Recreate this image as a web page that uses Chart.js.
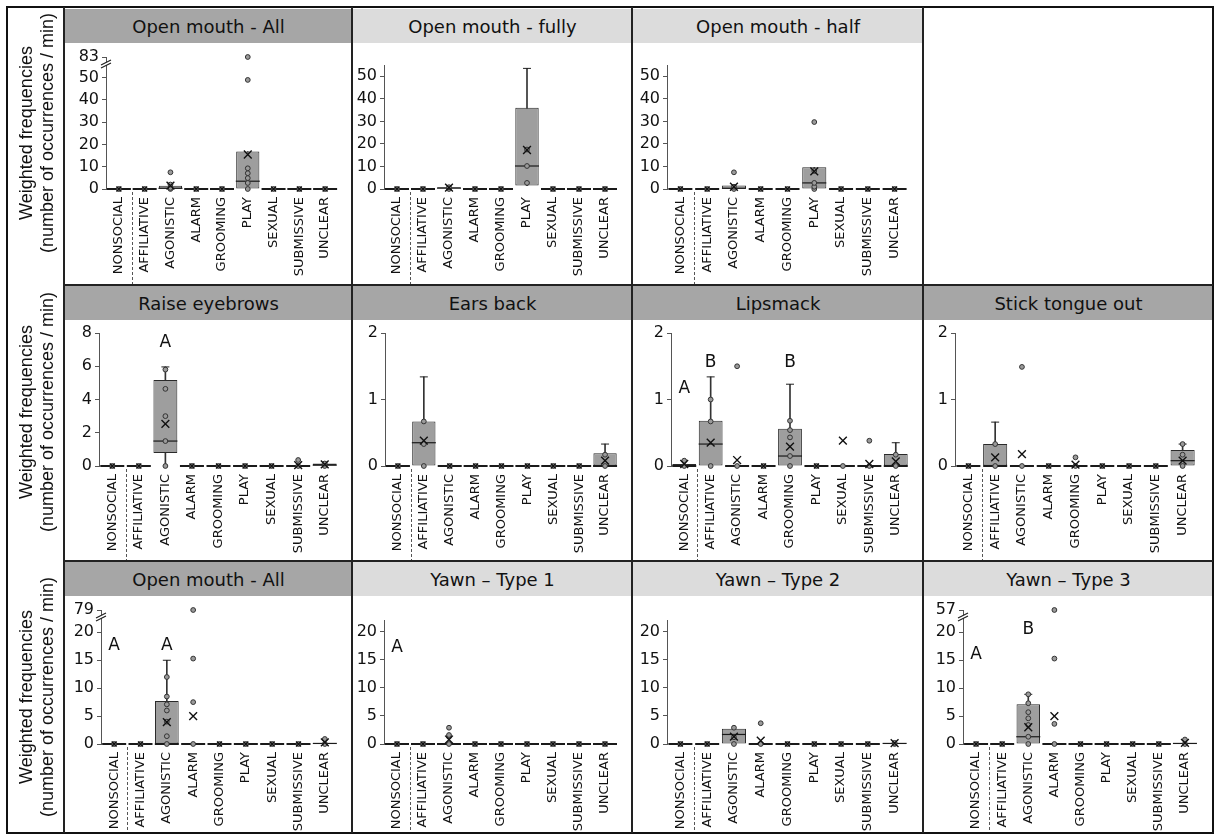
<!DOCTYPE html>
<html>
<head>
<meta charset="utf-8">
<script src="https://cdn.jsdelivr.net/npm/chart.js@4.4.1/dist/chart.umd.min.js"></script>
<style>
  body { margin: 0; background: #fff; width: 1215px; height: 839px; position: relative; overflow: hidden; }
  .frame { position: absolute; left: 6px; top: 6px; width: 1204px; height: 824px; border: 2px solid #111; }
  .vl { position: absolute; width: 2px; background: #222; }
  .hl { position: absolute; height: 2px; background: #222; }
  .hdr { position: absolute; height: 34px; display: flex; align-items: center; justify-content: center;
         font: 18px "DejaVu Sans", sans-serif; color: #111; }
  .ytitle { position: absolute; width: 300px; height: 44px; text-align: center; line-height: 22px;
            font: 18px "Liberation Sans", Arial, sans-serif; color: #111; transform: rotate(-90deg); }
  canvas { position: absolute; }
</style>
</head>
<body>
<div id="root"></div>
<script>
const CATS = ["NONSOCIAL", "AFFILIATIVE", "AGONISTIC", "ALARM", "GROOMING", "PLAY", "SEXUAL", "SUBMISSIVE", "UNCLEAR"]

// each row: [q1, median, q3, whisker low, whisker high, mean]
const omAllStats = [[0,0,0,0,0,0],[0,0,0,0,0,0],[0,0.3,1.5,0,1.5,1.5],[0,0,0,0,0,0],[0,0,0,0,0,0],[0,3.5,16.8,0,16.8,15.5],[0,0,0,0,0,0],[0,0,0,0,0,0],[0,0,0,0,0,0]]
const omAllPts = [[0],[0],[0,0.5,2,7.5],[0],[0],[0,2.7,4.9,7.1,9.3,49,83],[0],[0],[0]]

const omFullyStats = [[0,0,0,0,0,0],[0,0,0,0,0,0],[0,0.4,0.8,0,0.8,0.6],[0,0,0,0,0,0],[0,0,0,0,0,0],[1.5,10.2,36,1.5,53.5,17.3],[0,0,0,0,0,0],[0,0,0,0,0,0],[0,0,0,0,0,0]]
const omFullyPts = [[0],[0],[0,0.8],[0],[0],[2.7,10.2,17.5],[0],[0],[0]]

const omHalfStats = [[0,0,0,0,0,0],[0,0,0,0,0,0],[0,0.3,1.5,0,1.5,1.0],[0,0,0,0,0,0],[0,0,0,0,0,0],[0,2.7,9.6,0,9.6,7.8],[0,0,0,0,0,0],[0,0,0,0,0,0],[0,0,0,0,0,0]]
const omHalfPts = [[0],[0],[0,1,7.4],[0],[0],[0,1,2.7,8,29.7],[0],[0],[0]]

const raiseStats = [[0,0,0,0,0,0],[0,0,0,0,0,0],[0.78,1.5,5.18,0,5.96,2.53],[0,0,0,0,0,0],[0,0,0,0,0,0],[0,0,0,0,0,0],[0,0,0,0,0,0],[0,0,0,0,0,0.05],[0,0.05,0.15,0,0.15,0.1]]
const raisePts = [[0],[0],[0,1.5,3,4.64,5.8],[0],[0],[0],[0],[0,0.36],[0,0.15]]
const raiseLetters = [[2, 7.4, "A"]]

const earsStats = [[0,0,0,0,0,0],[0,0.35,0.67,0,1.34,0.38],[0,0,0,0,0,0],[0,0,0,0,0,0],[0,0,0,0,0,0],[0,0,0,0,0,0],[0,0,0,0,0,0],[0,0,0,0,0,0],[0,0,0.19,0,0.33,0.08]]
const earsPts = [[0],[0,0.33,0.67],[0],[0],[0],[0],[0],[0],[0,0.17]]

const lipStats = [[0,0,0.03,0,0.03,0.03],[0,0.33,0.68,0,1.34,0.35],[0,0,0,0,0,0.09],[0,0,0,0,0,0],[0,0.15,0.56,0,1.23,0.29],[0,0,0,0,0,0],[0,0,0,0,0,0.38],[0,0,0,0,0,0.03],[0,0,0.18,0,0.35,0.07]]
const lipPts = [[0,0.08],[0,0.67,1],[0,1.5],[0],[0,0.15,0.43,0.54,0.68],[0],[0],[0,0.38],[0,0.17]]
const lipLetters = [[0, 1.17, "A"], [1, 1.56, "B"], [4, 1.56, "B"]]

const tongueStats = [[0,0,0,0,0,0],[0,0,0.33,0,0.66,0.13],[0,0,0,0,0,0.18],[0,0,0,0,0,0],[0,0,0,0,0,0.02],[0,0,0,0,0,0],[0,0,0,0,0,0],[0,0,0,0,0,0],[0,0.08,0.24,0,0.33,0.08]]
const tonguePts = [[0],[0,0.33],[0,1.49],[0],[0,0.13],[0],[0],[0],[0,0.17,0.33]]

const omAll2Stats = [[0,0,0,0,0,0],[0,0,0,0,0,0],[0,0,7.7,0,15,3.9],[0,0,0,0,0,5.0],[0,0,0,0,0,0],[0,0,0,0,0,0],[0,0,0,0,0,0],[0,0,0,0,0,0],[0,0.1,0.2,0,0.2,0.3]]
const omAll2Pts = [[0],[0],[0,1.4,4,6,7.1,8.5,12],[0,7.5,15.3,79],[0],[0],[0],[0],[0,0.9]]
const omAll2Letters = [[0, 17.7, "A"], [2, 17.7, "A"]]

const yawn1Stats = [[0,0,0,0,0,0],[0,0,0,0,0,0],[0,0,0,0,0,0.8],[0,0,0,0,0,0],[0,0,0,0,0,0],[0,0,0,0,0,0],[0,0,0,0,0,0],[0,0,0,0,0,0],[0,0,0,0,0,0]]
const yawn1Pts = [[0],[0],[0,1.3,1.6,2.9],[0],[0],[0],[0],[0],[0]]
const yawn1Letters = [[0, 17.1, "A"]]

const yawn2Stats = [[0,0,0,0,0,0],[0,0,0,0,0,0],[0,1.7,2.7,0,2.7,1.3],[0,0,0,0,0,0.6],[0,0,0,0,0,0],[0,0,0,0,0,0],[0,0,0,0,0,0],[0,0,0,0,0,0],[0,0.1,0.2,0,0.2,0.15]]
const yawn2Pts = [[0],[0],[0,1.2,2.9],[0,3.7],[0],[0],[0],[0],[0,0.2]]

const yawn3Stats = [[0,0,0,0,0,0],[0,0,0,0,0,0],[0,1.3,7.1,0,8.9,3.0],[0,0,0,0,0,5.0],[0,0,0,0,0,0],[0,0,0,0,0,0],[0,0,0,0,0,0],[0,0,0,0,0,0],[0,0.1,0.2,0,0.2,0.2]]
const yawn3Pts = [[0],[0],[0,1.3,3.4,4.6,5.7,7.3,8.9],[0,3.6,15.3,57],[0],[0],[0],[0],[0,0.8]]
const yawn3Letters = [[0, 16, "A"], [2, 20.5, "B"]]

const ticksTop = [0, 10, 20, 30, 40, 50]
const ticksEight = [0, 2, 4, 6, 8]
const ticksTwo = [0, 1, 2]
const ticksBottom = [0, 5, 10, 15, 20]

// grid geometry
const colL = [64, 352, 632, 923], colR = [352, 632, 923, 1213]
const hdrTop = [9, 286, 562], hdrBot = [43, 319, 595], rowBot = [284, 560, 832]
const zeroY = [189, 466, 744]
const YW = 28

const panels = [
  { title: "Open mouth - All", dark: true, c: 0, r: 0, stats: omAllStats, pts: omAllPts, ticks: ticksTop, max: 59.3, brk: { at: 59.3, label: "83" }, ax: 106, pr: 341, topPx: 55 },
  { title: "Open mouth - fully", dark: false, c: 1, r: 0, stats: omFullyStats, pts: omFullyPts, ticks: ticksTop, max: 55, ax: 384, pr: 621, topPx: 65 },
  { title: "Open mouth - half", dark: false, c: 2, r: 0, stats: omHalfStats, pts: omHalfPts, ticks: ticksTop, max: 55, ax: 667, pr: 908, topPx: 65 },
  { title: "Raise eyebrows", dark: true, c: 0, r: 1, stats: raiseStats, pts: raisePts, letters: raiseLetters, ticks: ticksEight, max: 8, ax: 99, pr: 341, topPx: 333 },
  { title: "Ears back", dark: true, c: 1, r: 1, stats: earsStats, pts: earsPts, ticks: ticksTwo, max: 2, ax: 385, pr: 623, topPx: 333 },
  { title: "Lipsmack", dark: true, c: 2, r: 1, stats: lipStats, pts: lipPts, letters: lipLetters, ticks: ticksTwo, max: 2, ax: 671, pr: 913, topPx: 333 },
  { title: "Stick tongue out", dark: true, c: 3, r: 1, stats: tongueStats, pts: tonguePts, ticks: ticksTwo, max: 2, ax: 955, pr: 1196, topPx: 333 },
  { title: "Open mouth - All", dark: true, c: 0, r: 2, stats: omAll2Stats, pts: omAll2Pts, letters: omAll2Letters, ticks: ticksBottom, max: 24, brk: { at: 24, label: "79" }, ax: 101, pr: 338, topPx: 610 },
  { title: "Yawn \u2013 Type 1", dark: false, c: 1, r: 2, stats: yawn1Stats, pts: yawn1Pts, letters: yawn1Letters, ticks: ticksBottom, max: 22.1, ax: 384, pr: 621, topPx: 620 },
  { title: "Yawn \u2013 Type 2", dark: false, c: 2, r: 2, stats: yawn2Stats, pts: yawn2Pts, ticks: ticksBottom, max: 22.1, ax: 667, pr: 908, topPx: 620 },
  { title: "Yawn \u2013 Type 3", dark: false, c: 3, r: 2, stats: yawn3Stats, pts: yawn3Pts, letters: yawn3Letters, ticks: ticksBottom, max: 24, brk: { at: 24, label: "57" }, ax: 963, pr: 1198, topPx: 610 }
]

const root = document.getElementById("root")
function el(cls, css, text) {
  const d = document.createElement("div")
  d.className = cls
  Object.assign(d.style, css)
  if (text) d.innerHTML = text
  root.appendChild(d)
  return d
}

// dashed divider, significance letters and axis break, all placed through the chart scales
const decor = {
  id: "decor",
  afterDatasetsDraw(chart, args, opts) {
    const { ctx, chartArea, scales: { x, y } } = chart
    ctx.save()
    const dx = Math.round((x.getPixelForValue(0) + x.getPixelForValue(1)) / 2) + 0.5
    ctx.strokeStyle = "#555"
    ctx.lineWidth = 1
    ctx.setLineDash([3, 2])
    ctx.beginPath()
    ctx.moveTo(dx, chartArea.bottom + 3)
    ctx.lineTo(dx, chart.height)
    ctx.stroke()
    ctx.setLineDash([])

    ctx.fillStyle = "#111"
    ctx.font = "17px 'DejaVu Sans'"
    ctx.textAlign = "center"
    ctx.textBaseline = "middle"
    for (const [c, v, t] of opts.letters || []) {
      ctx.fillText(t, x.getPixelForValue(c), y.getPixelForValue(v))
    }

    if (opts.brk) {
      const ax = chartArea.left
      const yb = y.getPixelForValue(opts.brk.at) + 7
      ctx.fillStyle = "#fff"
      ctx.fillRect(ax - 2, yb - 2, 4, 3)
      ctx.strokeStyle = "#222"
      ctx.lineWidth = 1.2
      ctx.beginPath()
      ctx.moveTo(ax - 5, yb + 1); ctx.lineTo(ax + 5, yb - 4)
      ctx.moveTo(ax - 5, yb + 4); ctx.lineTo(ax + 5, yb - 1)
      ctx.stroke()
    }
    ctx.restore()
  }
}

function build(p) {
  const left = colL[p.c] + 2, top = hdrBot[p.r]
  const w = colR[p.c] - left, h = rowBot[p.r] - top
  const xh = rowBot[p.r] - zeroY[p.r]

  const canvas = document.createElement("canvas")
  canvas.width = w; canvas.height = h
  canvas.style.left = left + "px"; canvas.style.top = top + "px"
  canvas.style.width = w + "px"; canvas.style.height = h + "px"
  root.appendChild(canvas)

  const disp = v => (p.brk && v > p.brk.at ? p.brk.at : v)
  const points = []
  p.pts.forEach((list, i) => list.forEach(v => points.push({ x: CATS[i], y: disp(v) })))

  new Chart(canvas, {
    data: {
      labels: CATS,
      datasets: [
        { type: "bar", data: p.stats.map(s => [s[3], s[4]]), backgroundColor: "#333", barThickness: 1, grouped: false, clip: false, order: 6 },
        { type: "bar", data: p.stats.map(s => (s[2] > s[0] ? [s[0], s[2]] : null)), backgroundColor: "#9e9e9e", borderColor: "#2a2a2a",
          borderWidth: 1, borderSkipped: false, grouped: false, barPercentage: 0.9, categoryPercentage: 1, clip: false, order: 5 },
        { type: "line", showLine: false, data: p.stats.map(s => (s[4] > s[2] ? s[4] : null)), pointStyle: "line",
          pointRadius: 4, pointBorderWidth: 1, pointBorderColor: "#222", clip: false, order: 4 },
        { type: "line", showLine: false, data: p.stats.map(s => s[1]), pointStyle: "line",
          pointRadius: 12, pointBorderWidth: c => (c.raw === 0 ? 2 : 1.2), pointBorderColor: "#1a1a1a", clip: false, order: 3 },
        { type: "line", showLine: false, data: points, pointStyle: "circle", pointRadius: 2.4,
          pointBackgroundColor: "#9a9a9a", pointBorderColor: "#333", pointBorderWidth: 1, clip: false, order: 2 },
        { type: "line", showLine: false, data: p.stats.map(s => s[5]), pointStyle: "crossRot",
          pointRadius: c => (c.raw ? 5.5 : 3.5), pointBorderWidth: 1.4, pointBorderColor: "#111", clip: false, order: 1 }
      ]
    },
    options: {
      responsive: false,
      animation: false,
      events: [],
      layout: { padding: { left: p.ax - left - YW, right: colR[p.c] - p.pr, top: p.topPx - top, bottom: 0 } },
      plugins: {
        legend: { display: false },
        tooltip: { enabled: false },
        decor: { letters: p.letters, brk: p.brk }
      },
      scales: {
        x: {
          type: "category", offset: true,
          grid: { display: false, drawTicks: false },
          border: { display: false },
          ticks: { autoSkip: false, minRotation: 90, maxRotation: 90, padding: 8, color: "#111",
                   font: { family: "DejaVu Sans", size: 13 } },
          afterFit: s => { s.height = xh; s.paddingLeft = 0; s.paddingRight = 0 }
        },
        y: {
          type: "linear", min: 0, max: p.max,
          grid: { drawOnChartArea: false, tickLength: 4, color: "#555" },
          border: { color: "#555" },
          ticks: { autoSkip: false, padding: 3, color: "#111", font: { family: "DejaVu Sans", size: 16 },
                   callback: v => (p.brk && v === p.brk.at ? p.brk.label : v) },
          afterBuildTicks: s => { s.ticks = p.ticks.concat(p.brk ? [p.brk.at] : []).map(v => ({ value: v })) },
          afterFit: s => { s.width = YW; s.paddingTop = 0; s.paddingBottom = 0 }
        }
      }
    },
    plugins: [decor]
  })
}

// headers
panels.forEach(p => {
  el("hdr", { left: (colL[p.c] + 1) + "px", top: hdrTop[p.r] + "px", width: (colR[p.c] - colL[p.c] - 1) + "px",
              background: p.dark ? "#a6a6a6" : "#dcdcdc" }, p.title)
})
panels.forEach(build)

// frame and cell lines
el("frame", {})
colL.forEach(x => el("vl", { left: (x - 1) + "px", top: "7px", height: "826px" }))
;[284, 560].forEach(y => el("hl", { left: "63px", top: (y) + "px", width: "1150px" }))
;[133, 412, 697].forEach(cy => el("ytitle", { left: (38 - 150) + "px", top: (cy - 22) + "px" },
  "Weighted frequencies<br>(number of occurrences / min)"))
</script>
</body>
</html>
